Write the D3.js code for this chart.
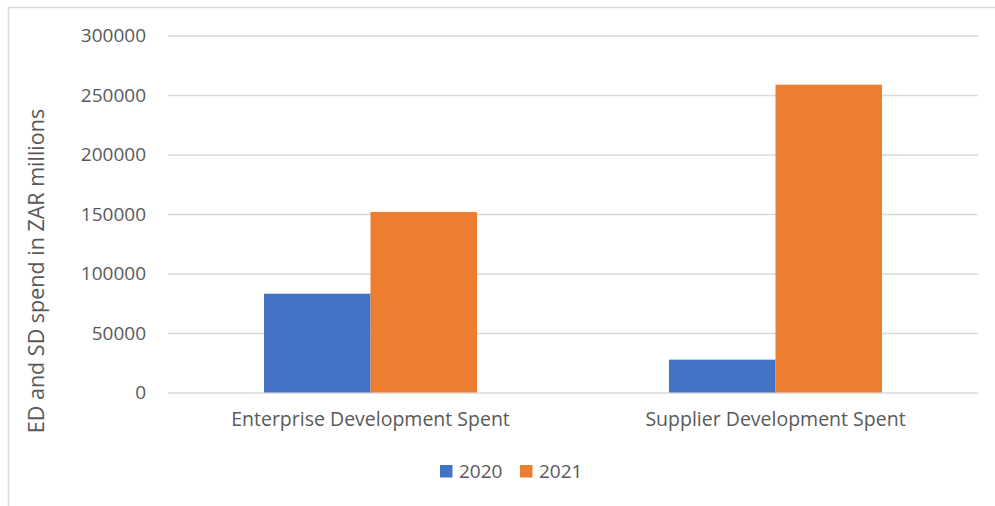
<!DOCTYPE html>
<html>
<head>
<meta charset="utf-8">
<script src="https://cdn.jsdelivr.net/npm/d3@7"></script>
<style>
  body { margin: 0; background: #fff; }
  text { font-family: "Open Sans", sans-serif; fill: #595959; }
</style>
</head>
<body>
<svg id="chart" width="995" height="506"></svg>
<script>
// data
const categories = ["Enterprise Development Spent", "Supplier Development Spent"];
const seriesNames = ["2020", "2021"];
const values2020 = [83000, 27600];
const values2021 = [151700, 258700];
const yTicks = [0, 50000, 100000, 150000, 200000, 250000, 300000];
const colors = ["#4472C4", "#ED7D31"];

const svg = d3.select("#chart");
const width = 995, height = 506;

const plot = { left: 168, right: 978, top: 35.5, bottom: 392.5 };

// chart frame
svg.append("rect")
    .attr("x", 8.5).attr("y", 7.5)
    .attr("width", width).attr("height", height)
    .attr("fill", "none")
    .attr("stroke", "#d9d9d9")
    .attr("stroke-width", 1.5);

const y = d3.scaleLinear()
    .domain([0, 300000])
    .range([plot.bottom, plot.top]);

const x0 = d3.scaleBand()
    .domain(categories)
    .range([plot.left, plot.right])
    .paddingInner(0.474)
    .paddingOuter(0.237);

const x1 = d3.scaleBand()
    .domain(seriesNames)
    .range([0, x0.bandwidth()]);

// y axis: gridlines + labels
const yAxis = d3.axisLeft(y)
    .tickValues(yTicks)
    .tickSize(-(plot.right - plot.left))
    .tickPadding(22)
    .tickFormat(d3.format("d"));

const gy = svg.append("g")
    .attr("transform", "translate(" + plot.left + ",0)")
    .call(yAxis);
gy.select(".domain").remove();
gy.selectAll(".tick line")
    .attr("stroke", "#d9d9d9")
    .attr("stroke-width", 1.5);
gy.selectAll(".tick text")
    .attr("font-family", "Open Sans, sans-serif")
    .attr("font-size", 19)
    .attr("fill", "#595959");

// bars
const rows = categories.map((c, i) => ({
    category: c,
    vals: [values2020[i], values2021[i]]
}));

const groups = svg.append("g").selectAll("g")
    .data(rows)
    .enter().append("g")
    .attr("transform", d => "translate(" + x0(d.category) + ",0)");

groups.selectAll("rect")
    .data(d => d.vals.map((v, j) => ({ key: seriesNames[j], value: v, j: j })))
    .enter().append("rect")
    .attr("x", d => x1(d.key))
    .attr("y", d => y(d.value))
    .attr("width", x1.bandwidth())
    .attr("height", d => y(0) - y(d.value))
    .attr("fill", d => colors[d.j]);

// x axis labels
const xAxis = d3.axisBottom(x0).tickSize(0).tickPadding(20);
const gx = svg.append("g")
    .attr("transform", "translate(0," + plot.bottom + ")")
    .call(xAxis);
gx.select(".domain").remove();
gx.selectAll(".tick text")
    .attr("font-family", "Open Sans, sans-serif")
    .attr("font-size", 19.5)
    .attr("fill", "#595959");

// y axis title
svg.append("text")
    .attr("transform", "translate(44,271) rotate(-90)")
    .attr("text-anchor", "middle")
    .attr("font-size", 21.5)
    .text("ED and SD spend in ZAR millions");

// legend
const legend = svg.append("g").attr("transform", "translate(440,465)");
const items = [{ name: "2020", x: 0 }, { name: "2021", x: 80 }];
items.forEach((it, i) => {
    legend.append("rect")
        .attr("x", it.x).attr("y", 0)
        .attr("width", 12.5).attr("height", 12.5)
        .attr("fill", colors[i]);
    legend.append("text")
        .attr("x", it.x + 19).attr("y", 13)
        .attr("font-size", 19)
        .text(it.name);
});
</script>
</body>
</html>
